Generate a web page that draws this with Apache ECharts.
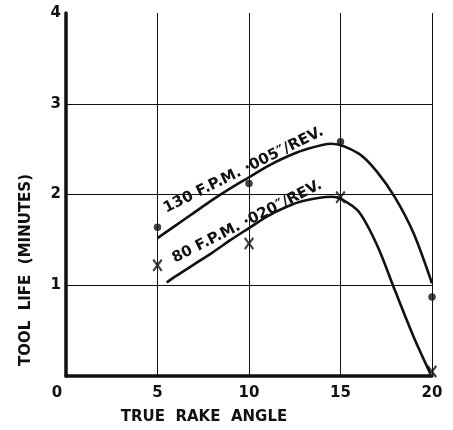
<!DOCTYPE html>
<html>
<head>
<meta charset="utf-8">
<script src="https://cdn.jsdelivr.net/npm/echarts@6/dist/echarts.min.js"></script>
<style>
  html, body { margin: 0; padding: 0; background: #fff; }
  #chart { width: 453px; height: 430px; }
</style>
</head>
<body>
<div id="chart"></div>
<script>
// measured points (rake angle vs tool life)
var rakeAngles = [5, 10, 15, 20]
var dots130 = [1.64, 2.12, 2.58, 0.87]
var cross80 = [1.22, 1.46, 1.97, 0.05]

// faired curves (peak included so the smoothing stays clean)
var curve130X = [5, 6, 7, 8, 9, 10, 11, 12, 13, 14.5, 16, 17, 18, 19, 20]
var curve130Y = [1.52, 1.66, 1.80, 1.94, 2.07, 2.19, 2.31, 2.41, 2.49, 2.56, 2.45, 2.25, 1.96, 1.57, 1.02]
var curve80X = [5.5, 6, 7, 8, 9, 10, 11, 12, 13, 14.5, 15, 16, 17, 18, 19, 19.9]
var curve80Y = [1.03, 1.10, 1.23, 1.36, 1.50, 1.63, 1.76, 1.86, 1.93, 1.975, 1.955, 1.81, 1.44, 0.93, 0.43, 0.03]

var xTicks = [0, 5, 10, 15, 20]
var yTicks = [1, 2, 3, 4]
var curveLabels = ['130 F.P.M. \u00b7005\u2033/REV.', '80 F.P.M. \u00b7020\u2033/REV.']

var ink = '#111'
var font = 'DejaVu Sans'

function zip(xs, ys) {
    return xs.map(function (x, i) { return [x, ys[i]] })
}

var chart = echarts.init(document.getElementById('chart'))

var option = {
    backgroundColor: '#fff',
    animation: false,
    grid: { left: 66, right: 21, top: 13, bottom: 54 },
    xAxis: {
        type: 'value', min: 0, max: 20, interval: 5,
        axisLine: { lineStyle: { color: ink, width: 3.5 } },
        axisTick: { show: false },
        axisLabel: {
            color: ink, fontFamily: font, fontWeight: 'bold', fontSize: 15, margin: 10,
            formatter: function (v) {
                if (v === 0) return '{z|0}'   // the zero sits a little left of the axis
                return xTicks.indexOf(v) >= 0 ? String(v) : ''
            },
            rich: { z: { fontFamily: font, fontWeight: 'bold', fontSize: 15, color: ink, padding: [0, 18, 0, 0] } }
        },
        splitLine: { show: true, lineStyle: { color: ink, width: 1 } }
    },
    yAxis: {
        type: 'value', min: 0, max: 4, interval: 1,
        axisLine: { show: true, lineStyle: { color: ink, width: 3.5 } },
        axisTick: { show: false },
        axisLabel: {
            color: ink, fontFamily: font, fontWeight: 'bold', fontSize: 15, margin: 5,
            formatter: function (v) { return yTicks.indexOf(v) >= 0 ? String(v) : '' }
        },
        splitLine: { show: false }
    },
    series: [
        {
            // horizontal rules at 1, 2, 3 (no rule along the top)
            type: 'line', data: [], silent: true,
            markLine: {
                silent: true, symbol: 'none', label: { show: false },
                lineStyle: { color: ink, width: 1, type: 'solid' },
                data: yTicks.slice(0, 3).map(function (v) { return { yAxis: v } })
            }
        },
        {
            type: 'line', smooth: 0.3, symbol: 'none',
            data: zip(curve130X, curve130Y),
            lineStyle: { color: ink, width: 2.6 }
        },
        {
            type: 'line', smooth: 0.3, symbol: 'none',
            data: zip(curve80X, curve80Y),
            lineStyle: { color: ink, width: 2.6 }
        },
        {
            type: 'scatter', symbol: 'circle', symbolSize: 7.5,
            data: zip(rakeAngles, dots130),
            itemStyle: { color: ink }
        },
        {
            type: 'scatter',
            symbol: 'path://M0,1.4L1.4,0L5,3.6L8.6,0L10,1.4L6.4,5L10,8.6L8.6,10L5,6.4L1.4,10L0,8.6L3.6,5Z',
            symbolSize: [10, 13],
            data: zip(rakeAngles, cross80),
            itemStyle: { color: ink }
        }
    ]
}
chart.setOption(option)

// text laid along the curves, anchored in data space
var p1 = chart.convertToPixel({ gridIndex: 0 }, [9.7, 2.27])
var p2 = chart.convertToPixel({ gridIndex: 0 }, [9.9, 1.70])
var textStyle = { fill: ink, fontFamily: font, fontWeight: 'bold', fontSize: 15, align: 'center', verticalAlign: 'middle' }

chart.setOption({
    graphic: [
        { type: 'text', x: p1[0], y: p1[1], rotation: 0.46,
          style: Object.assign({ text: curveLabels[0] }, textStyle) },
        { type: 'text', x: p2[0], y: p2[1], rotation: 0.47,
          style: Object.assign({ text: curveLabels[1] }, textStyle) },
        { type: 'text', x: 204, y: 417,
          style: Object.assign({ text: 'TRUE  RAKE  ANGLE' }, textStyle) },
        { type: 'text', x: 26, y: 270, rotation: Math.PI / 2,
          style: Object.assign({ text: 'TOOL  LIFE  (MINUTES)' }, textStyle) }
    ]
})
</script>
</body>
</html>
